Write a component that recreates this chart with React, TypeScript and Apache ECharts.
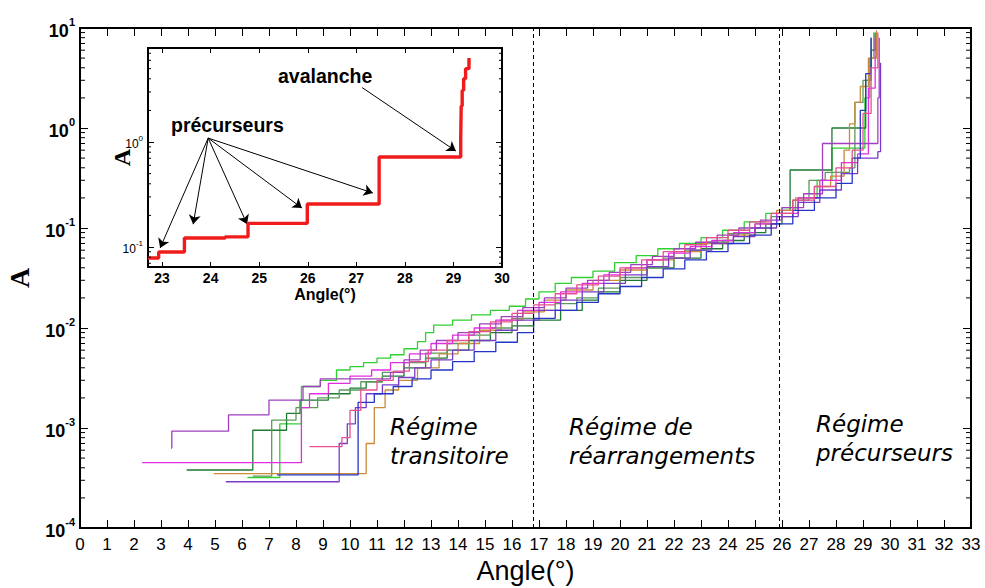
import React, { useEffect, useRef } from "react";
import * as echarts from "echarts";

// ---------- data (angle in degrees, A) ----------
const serieVert = [[6.2,3.2e-4],[7.4,1.1e-3],[8.2,2.6e-3],[8.9,3.0e-3],[9.5,3.8e-3],[10.0,4.1e-3],[10.5,4.5e-3],[11.0,5.0e-3],[11.5,5.4e-3],[12.0,6.2e-3],[12.5,7.3e-3],[12.8,9.0e-3],[13.1,1.07e-2],[13.8,1.2e-2],[14.5,1.35e-2],[15.2,1.5e-2],[15.9,1.65e-2],[16.5,1.95e-2],[17.0,2.3e-2],[17.6,2.8e-2],[18.2,3.2e-2],[19.0,3.7e-2],[19.8,4.5e-2],[20.6,5.3e-2],[21.4,6.2e-2],[22.2,7.0e-2],[23.0,8.0e-2],[23.8,9.5e-2],[24.6,0.115],[25.4,0.14],[26.0,0.16],[26.6,0.2],[27.3,0.3],[27.85,0.63],[29.07,2.0],[29.25,5.0],[29.4,9.0]];
const serieVertFonce = [[3.95,3.8e-4],[6.4,9.5e-4],[7.65,1.4e-3],[8.15,1.9e-3],[9.2,2.2e-3],[10.0,2.5e-3],[10.6,2.9e-3],[11.2,3.3e-3],[12.0,4.0e-3],[12.8,5.0e-3],[13.6,6.0e-3],[14.4,7.5e-3],[15.2,9.0e-3],[16.0,1.05e-2],[16.8,1.2e-2],[17.8,1.5e-2],[18.6,1.9e-2],[19.2,2.3e-2],[20.0,3.0e-2],[21.0,4.0e-2],[22.0,5.0e-2],[23.0,6.2e-2],[23.8,7.5e-2],[24.6,9.0e-2],[25.4,0.11],[26.0,0.15],[26.3,0.38],[27.85,1.0],[29.1,3.0],[29.3,6.0],[29.45,9.0]];
const serieOlive = [[6.4,3.3e-4],[7.1,1.2e-3],[8.0,1.6e-3],[8.8,2.0e-3],[9.6,2.4e-3],[10.4,2.9e-3],[11.2,3.6e-3],[12.0,4.5e-3],[12.8,5.6e-3],[13.6,7.0e-3],[14.4,8.5e-3],[15.2,1.0e-2],[16.0,1.25e-2],[16.8,1.5e-2],[17.6,1.75e-2],[18.4,2.0e-2],[19.2,2.5e-2],[20.0,3.2e-2],[20.8,4.0e-2],[21.6,5.0e-2],[22.4,6.0e-2],[23.2,7.2e-2],[24.0,8.8e-2],[24.8,0.1],[25.6,0.13],[26.4,0.19],[27.0,0.3],[27.6,0.36],[28.5,0.4],[28.7,1.8],[29.0,3.0],[29.3,8.0]];
const serieOrange = [[4.95,3.5e-4],[10.6,7e-4],[10.9,1.6e-3],[11.3,2.4e-3],[11.8,3.0e-3],[12.5,4.0e-3],[13.3,5.5e-3],[14.0,7.0e-3],[14.8,9.5e-3],[15.6,1.2e-2],[16.4,1.45e-2],[17.2,1.9e-2],[18.0,2.4e-2],[19.0,3.0e-2],[20.0,3.8e-2],[21.0,4.8e-2],[22.0,5.8e-2],[23.0,7.0e-2],[24.0,8.5e-2],[25.0,0.11],[25.8,0.15],[26.5,0.2],[27.2,0.26],[27.8,0.33],[28.3,0.6],[28.5,1.1],[28.7,1.8],[28.9,2.6],[29.2,5.0],[29.5,9.5]];
const serieMagenta = [[2.3,4.5e-4],[8.2,1.6e-3],[8.5,2.2e-3],[9.2,2.8e-3],[10.0,3.3e-3],[10.8,3.8e-3],[11.5,4.5e-3],[12.2,5.5e-3],[13.0,7.0e-3],[13.8,8.5e-3],[14.6,1.0e-2],[15.4,1.2e-2],[16.2,1.5e-2],[17.0,1.8e-2],[17.8,2.3e-2],[18.6,2.8e-2],[19.4,3.4e-2],[20.2,4.0e-2],[21.0,4.8e-2],[21.8,5.6e-2],[22.6,6.5e-2],[23.4,7.5e-2],[24.2,9.0e-2],[25.0,0.11],[25.8,0.14],[26.6,0.2],[27.4,0.3],[28.2,0.45],[28.8,0.55],[29.2,2.5],[29.45,8.0]];
const seriePourpre = [[3.37,6.3e-4],[3.4,9.3e-4],[5.5,1.35e-3],[7.0,1.9e-3],[8.26,2.6e-3],[8.9,3.1e-3],[11.5,3.6e-3],[12.0,4.8e-3],[12.6,6.0e-3],[13.2,7.5e-3],[14.0,9.0e-3],[14.8,1.1e-2],[15.6,1.3e-2],[16.4,1.6e-2],[17.2,2.0e-2],[18.0,2.5e-2],[18.8,3.0e-2],[19.6,3.6e-2],[20.4,4.3e-2],[21.2,5.2e-2],[22.0,6.2e-2],[22.8,7.2e-2],[23.6,8.5e-2],[24.4,0.1],[25.2,0.12],[26.0,0.16],[26.8,0.22],[27.5,0.7],[29.55,2.0],[29.6,8.0]];
const serieViolet = [[5.4,2.9e-4],[9.6,7e-4],[9.9,1.1e-3],[10.2,1.6e-3],[10.6,2.2e-3],[11.2,2.7e-3],[11.8,3.2e-3],[12.4,4.0e-3],[13.0,4.8e-3],[13.8,6.0e-3],[14.6,7.5e-3],[15.4,9.5e-3],[16.2,1.2e-2],[17.0,1.5e-2],[17.8,1.9e-2],[18.6,2.3e-2],[19.4,2.8e-2],[20.2,3.4e-2],[21.0,4.1e-2],[21.8,5.0e-2],[22.6,6.0e-2],[23.4,7.0e-2],[24.2,8.2e-2],[25.0,0.1],[25.8,0.13],[26.6,0.18],[27.4,0.24],[28.2,0.35],[28.8,0.5],[29.55,0.58],[29.65,4.5]];
const serieBleu = [[7.3,3.4e-4],[10.3,1.8e-3],[10.9,2.2e-3],[11.6,2.6e-3],[12.3,3.1e-3],[13.0,3.8e-3],[13.8,4.6e-3],[14.6,5.8e-3],[15.4,7.2e-3],[16.2,9.0e-3],[16.8,1.25e-2],[17.6,1.5e-2],[18.4,1.8e-2],[19.2,2.2e-2],[20.0,2.6e-2],[20.8,3.2e-2],[21.6,3.9e-2],[22.4,4.8e-2],[23.2,5.8e-2],[24.0,7.0e-2],[24.8,8.5e-2],[25.6,0.11],[26.4,0.15],[27.2,0.2],[28.0,0.28],[28.6,0.5],[28.9,1.5],[29.1,3.5],[29.3,8.0]];
const serieRose = [[8.5,6.5e-4],[9.7,8e-4],[10.0,1.5e-3],[10.4,2.4e-3],[11.0,3.0e-3],[11.6,3.7e-3],[12.2,4.6e-3],[12.9,6.0e-3],[13.6,7.5e-3],[14.4,9.2e-3],[15.2,1.15e-2],[16.0,1.4e-2],[16.8,1.7e-2],[17.6,2.2e-2],[18.4,2.7e-2],[19.2,3.3e-2],[20.0,4.0e-2],[20.8,4.8e-2],[21.6,5.8e-2],[22.4,6.8e-2],[23.2,8.0e-2],[24.0,9.5e-2],[24.8,0.115],[25.6,0.14],[26.4,0.19],[27.2,0.26],[28.0,0.4],[28.6,0.6],[29.0,1.4],[29.3,4.0],[29.55,9.0]];

// regime boundaries (dashed lines)
const regimeLimits = [16.8, 25.9];

// inset: single run, angle and A
const insetAngle = [22.71, 22.93, 23.46, 24.3, 24.77, 25.99, 27.47, 29.15, 29.16, 29.18, 29.21, 29.25, 29.32];
const insetA = [0.0786, 0.0896, 0.122, 0.125, 0.168, 0.257, 0.72, 1.1, 2.2, 3.1, 4.0, 5.0, 6.3];

// inset annotation arrows (data coordinates)
const arrowOrigin = [23.95, 1.09];
const arrowTargets = [[22.96, 0.098], [23.64, 0.165], [24.75, 0.165], [25.88, 0.235], [27.34, 0.327]];
const avalancheFrom = [27.12, 3.3];
const avalancheTo = [29.05, 0.82];

// minor log ticks
const minorMult = [2, 3, 4, 5, 6, 7, 8, 9];
const mainDecades = [-4, -3, -2, -1, 0];
const insetDecades = [-2, -1, 0];

const MAIN_X = [0, 33];
const MAIN_Y = [1e-4, 10];
const INSET_X = [22.71, 30];
const INSET_Y = [0.0645, 7.86];

const SANS = '"Liberation Sans", Arial, Helvetica, sans-serif';
const WIDE = '"DejaVu Sans", Arial, sans-serif';
const SERIF = '"Liberation Serif", "Times New Roman", serif';

const lines = [
  { name: "vert", color: "#2fd02f", data: serieVert },
  { name: "vertFonce", color: "#1e7a32", data: serieVertFonce },
  { name: "olive", color: "#5b9a5b", data: serieOlive },
  { name: "orange", color: "#c98a3a", data: serieOrange },
  { name: "magenta", color: "#e22ee2", data: serieMagenta },
  { name: "pourpre", color: "#a040c0", data: seriePourpre },
  { name: "violet", color: "#7a3cc8", data: serieViolet },
  { name: "bleu", color: "#2535c8", data: serieBleu },
  { name: "rose", color: "#e8508f", data: serieRose },
];

function minorValues(decades: number[], lo: number, hi: number) {
  const out: number[] = [];
  decades.forEach((d) => minorMult.forEach((m) => {
    const v = m * Math.pow(10, d);
    if (v > lo && v < hi) out.push(v);
  }));
  return out;
}

function minorTickSeries(idx: number, values: number[], xRef: number, len: number) {
  return {
    type: "custom",
    xAxisIndex: idx,
    yAxisIndex: idx,
    silent: true,
    clip: false,
    z: 12,
    data: values.map((v) => [xRef, v]),
    renderItem: (params: any, api: any) => {
      const cs = params.coordSys;
      const y = api.coord([api.value(0), api.value(1)])[1];
      return {
        type: "group",
        children: [
          { type: "line", shape: { x1: cs.x, y1: y, x2: cs.x + len, y2: y }, style: { stroke: "#000", lineWidth: 1 } },
          { type: "line", shape: { x1: cs.x + cs.width, y1: y, x2: cs.x + cs.width - len, y2: y }, style: { stroke: "#000", lineWidth: 1 } },
        ],
      };
    },
  };
}

function powLabel(v: number) {
  const l = Math.log10(v);
  const e = Math.round(l);
  if (Math.abs(l - e) > 1e-6) return "";
  return `{b|10}{s|${e}}`;
}

export default function App() {
  const ref = useRef<HTMLDivElement>(null);
  useEffect(() => {
    if (!ref.current) return;
    const chart = echarts.init(ref.current, undefined, { renderer: "svg" });
    const mkLine = () => ({ show: true, onZero: false, lineStyle: { color: "#000000", width: 2, opacity: 1 } });
    const tick = (len: number) => ({ show: true, inside: true, length: len, lineStyle: { color: "#000000", width: 1, opacity: 1 } });
    const regimeStyle = (text: string) => ({ text, fontSize: 23, fontStyle: "italic", fontFamily: WIDE, fill: "#000", lineHeight: 29 });
    const option: any = {
      animation: false,
      backgroundColor: "#ffffff",
      grid: [
        { left: 80, top: 28, width: 891, height: 500, outerBoundsMode: "none", containLabel: false, show: true, borderColor: "#000000", borderWidth: 2, backgroundColor: "rgba(0,0,0,0)", z: 1 },
        { left: 148, top: 48, width: 354, height: 219, outerBoundsMode: "none", containLabel: false, show: true, backgroundColor: "#ffffff", borderColor: "#000000", borderWidth: 2, z: 3 },
      ],
      xAxis: [
        {
          type: "value", gridIndex: 0, min: MAIN_X[0], max: MAIN_X[1], interval: 1, z: 10,
          axisLine: mkLine(), axisTick: tick(8),
          splitLine: { show: false },
          axisLabel: { color: "#000", fontSize: 17, fontFamily: SANS, margin: 8 },
          name: "Angle(°)", nameLocation: "middle", nameGap: 28,
          nameTextStyle: { color: "#000", fontSize: 27, fontFamily: SANS },
        },
        {
          type: "value", gridIndex: 0, position: "top", min: MAIN_X[0], max: MAIN_X[1], interval: 1, z: 10,
          axisLine: mkLine(), axisTick: tick(8),
          splitLine: { show: false }, axisLabel: { show: false },
        },
        {
          type: "value", gridIndex: 1, min: INSET_X[0], max: INSET_X[1], splitNumber: 7, z: 10,
          axisLine: mkLine(), axisTick: tick(5),
          splitLine: { show: false },
          axisLabel: {
            color: "#000", fontSize: 14, fontWeight: "bold", fontFamily: SANS, margin: 4,
            formatter: (v: number) => (Math.abs(v - Math.round(v)) < 1e-6 ? String(Math.round(v)) : ""),
          },
          name: "Angle(°)", nameLocation: "middle", nameGap: 19,
          nameTextStyle: { color: "#000", fontSize: 16, fontWeight: "bold", fontFamily: SANS },
        },
        {
          type: "value", gridIndex: 1, position: "top", min: INSET_X[0], max: INSET_X[1], splitNumber: 7, z: 10,
          axisLine: mkLine(), axisTick: tick(5),
          splitLine: { show: false }, axisLabel: { show: false },
        },
      ],
      yAxis: [
        {
          type: "log", logBase: 10, gridIndex: 0, min: MAIN_Y[0], max: MAIN_Y[1], splitNumber: 5, z: 10,
          axisLine: mkLine(), axisTick: tick(8),
          splitLine: { show: false },
          axisLabel: {
            margin: 5, formatter: powLabel,
            rich: {
              b: { fontSize: 18, fontWeight: "bold", fontFamily: SANS, color: "#000", verticalAlign: "bottom", lineHeight: 24 },
              s: { fontSize: 11, fontWeight: "bold", fontFamily: SANS, color: "#000", verticalAlign: "top", lineHeight: 24 },
            },
          },
          name: "A", nameLocation: "middle", nameRotate: 90, nameGap: 47, nameMoveOverlap: false,
          nameTextStyle: { color: "#000", fontSize: 28, fontWeight: "bold", fontFamily: SERIF },
        },
        {
          type: "log", logBase: 10, gridIndex: 0, position: "right", min: MAIN_Y[0], max: MAIN_Y[1], splitNumber: 5, z: 10,
          axisLine: mkLine(), axisTick: tick(8),
          splitLine: { show: false }, axisLabel: { show: false },
        },
        {
          type: "log", logBase: 10, gridIndex: 1, min: INSET_Y[0], max: INSET_Y[1], splitNumber: 2, z: 10,
          axisLine: mkLine(), axisTick: tick(6),
          splitLine: { show: false },
          axisLabel: {
            margin: 5, formatter: powLabel,
            rich: {
              b: { fontSize: 12, fontFamily: SANS, color: "#000", verticalAlign: "bottom", lineHeight: 16 },
              s: { fontSize: 8, fontFamily: SANS, color: "#000", verticalAlign: "top", lineHeight: 16 },
            },
          },
          name: "A", nameLocation: "middle", nameRotate: 90, nameGap: 14, nameMoveOverlap: false,
          nameTextStyle: { color: "#000", fontSize: 24, fontWeight: "bold", fontFamily: SERIF },
        },
        {
          type: "log", logBase: 10, gridIndex: 1, position: "right", min: INSET_Y[0], max: INSET_Y[1], splitNumber: 2, z: 10,
          axisLine: mkLine(), axisTick: tick(6),
          splitLine: { show: false }, axisLabel: { show: false },
        },
      ],
      series: [
        ...lines.map((l, i) => ({
          type: "line", name: l.name, xAxisIndex: 0, yAxisIndex: 0, step: "end",
          data: l.data, showSymbol: false, symbol: "none", silent: true,
          lineStyle: { color: l.color, width: 1.3 }, itemStyle: { color: l.color }, z: 2,
          ...(i === 0
            ? {
                markLine: {
                  silent: true, symbol: "none", label: { show: false },
                  lineStyle: { color: "#000", width: 1, type: [4, 3] },
                  data: regimeLimits.map((x) => ({ xAxis: x })),
                },
              }
            : {}),
        })),
        {
          type: "line", name: "inset", xAxisIndex: 2, yAxisIndex: 2, step: "end",
          data: insetAngle.map((a, i) => [a, insetA[i]]),
          showSymbol: false, symbol: "none", silent: true, z: 10,
          lineStyle: { color: "#f01c1c", width: 3.4 }, itemStyle: { color: "#f01c1c" },
          markLine: {
            silent: true, symbol: ["none", "arrow"], symbolSize: 9, label: { show: false },
            lineStyle: { color: "#000", width: 1, type: "solid" },
            data: [
              ...arrowTargets.map((t) => [{ coord: arrowOrigin }, { coord: t }]),
              [{ coord: avalancheFrom }, { coord: avalancheTo }],
            ],
          },
        },
        minorTickSeries(0, minorValues(mainDecades, MAIN_Y[0], MAIN_Y[1]), 1, 5),
        minorTickSeries(2, minorValues(insetDecades, INSET_Y[0], INSET_Y[1]), 25, 3),
      ],
      graphic: [
        { type: "text", z: 100, x: 390, y: 412, style: regimeStyle("Régime\ntransitoire") },
        { type: "text", z: 100, x: 569, y: 412, style: regimeStyle("Régime de\nréarrangements") },
        { type: "text", z: 100, x: 816, y: 409, style: regimeStyle("Régime\nprécurseurs") },
        { type: "text", z: 100, x: 171, y: 115, style: { text: "précurseurs", fontSize: 19.5, fontWeight: "bold", fontFamily: SANS, fill: "#000" } },
        { type: "text", z: 100, x: 278, y: 66, style: { text: "avalanche", fontSize: 19.5, fontWeight: "bold", fontFamily: SANS, fill: "#000" } },
      ],
    };
    chart.setOption(option);
    return () => chart.dispose();
  }, []);
  return <div ref={ref} style={{ position: "absolute", left: 0, top: 0, width: 985, height: 588 }} />;
}
